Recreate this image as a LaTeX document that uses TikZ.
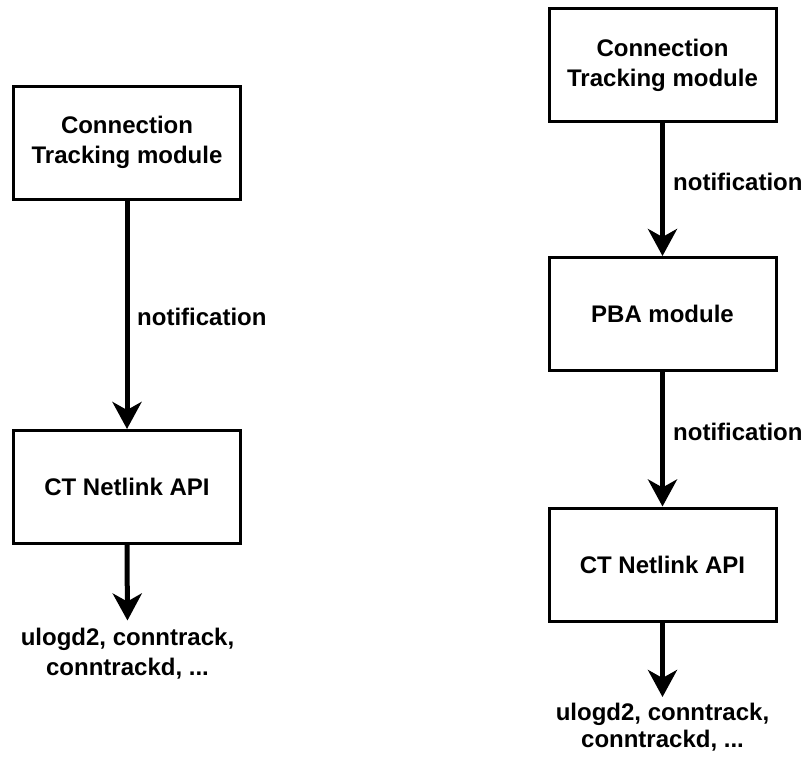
\documentclass[tikz,border=0pt]{standalone}
\usepackage{fontspec}
\setmainfont{Liberation Sans}
\usetikzlibrary{arrows.meta}
\begin{document}
\begin{tikzpicture}[x=1pt,y=-1pt,
  box/.style={draw, line width=3pt, minimum width=227pt, minimum height=113pt,
    align=center, inner sep=0pt, font=\bfseries\fontsize{24}{30}\selectfont},
  flow/.style={line width=5pt, -{Stealth[length=27pt,width=29pt,inset=8pt]}},
  lbl/.style={inner sep=0pt, font=\bfseries\fontsize{24}{30}\selectfont},
  outtxt/.style={inner sep=0pt, align=center, anchor=north},
]
\useasboundingbox (0,0) rectangle (808,756);

% left chain
\node[box] (ct1) at (127,142.5) {Connection\\Tracking module};
\node[box] (api1) at (127,487) {CT Netlink API};
\node[outtxt, font=\bfseries\fontsize{24}{30}\selectfont] (out1) at (127.5,627.5)
  {ulogd2, conntrack,\\conntrackd, ...};
\draw[flow] (ct1.south) -- (api1.north);
\node[lbl, anchor=west] (n1) at (137,317) {notification};
\draw[flow, shorten >=7pt] (api1.south) -- (out1.north);

% right chain
\node[box] (ct2) at (662.5,65) {Connection\\Tracking module};
\node[box] (pba) at (662.5,314) {PBA module};
\node[box] (api2) at (662.5,564.5) {CT Netlink API};
\node[outtxt, font=\bfseries\fontsize{24}{27}\selectfont] (out2) at (662.5,702.5)
  {ulogd2, conntrack,\\conntrackd, ...};
\draw[flow] (ct2.south) -- (pba.north);
\node[lbl, anchor=west] (n2) at (673,182) {notification};
\draw[flow] (pba.south) -- (api2.north);
\node[lbl, anchor=west] (n3) at (673,432) {notification};
\draw[flow, shorten >=5.5pt] (api2.south) -- (out2.north);
\end{tikzpicture}
\end{document}
